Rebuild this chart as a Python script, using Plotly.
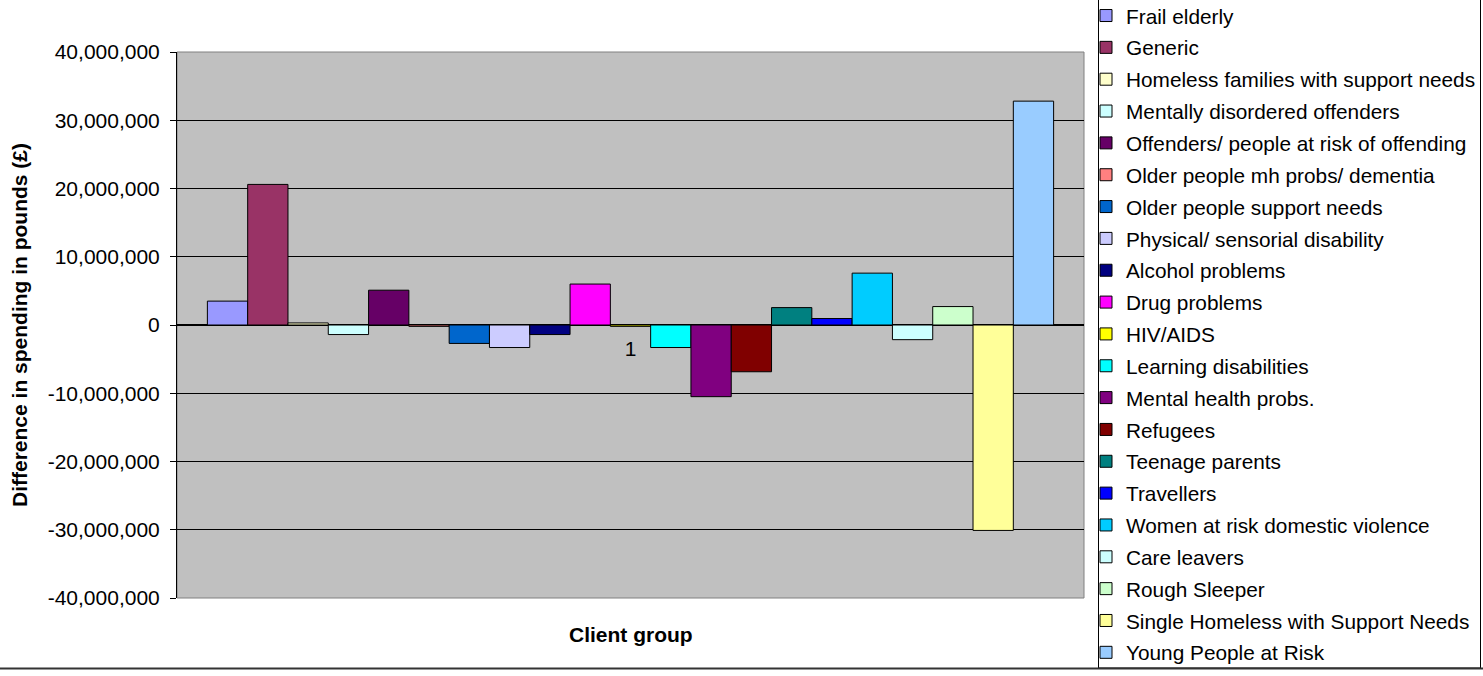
import plotly.graph_objects as go

groups = [
    "Frail elderly", "Generic", "Homeless families with support needs",
    "Mentally disordered offenders", "Offenders/ people at risk of offending",
    "Older people mh probs/ dementia", "Older people support needs",
    "Physical/ sensorial disability", "Alcohol problems", "Drug problems",
    "HIV/AIDS", "Learning disabilities", "Mental health probs.", "Refugees",
    "Teenage parents", "Travellers", "Women at risk domestic violence",
    "Care leavers", "Rough Sleeper", "Single Homeless with Support Needs",
    "Young People at Risk",
]
values = [
    3500000, 20600000, 300000, -1400000, 5100000,
    -200000, -2700000, -3300000, -1400000, 6000000,
    -200000, -3300000, -10500000, -6850000, 2550000,
    950000, 7600000, -2150000, 2700000, -30100000,
    32800000,
]
colors = [
    "#9999FF", "#993366", "#FFFFCC", "#CCFFFF", "#660066",
    "#FF8080", "#0066CC", "#CCCCFF", "#000080", "#FF00FF",
    "#FFFF00", "#00FFFF", "#800080", "#800000", "#008080",
    "#0000FF", "#00CCFF", "#CCFFFF", "#CCFFCC", "#FFFF99",
    "#99CCFF",
]
category = ["1"]
y_ticks = [-40000000, -30000000, -20000000, -10000000, 0,
           10000000, 20000000, 30000000, 40000000]
y_ticklabels = ["-40,000,000", "-30,000,000", "-20,000,000", "-10,000,000", "0",
                "10,000,000", "20,000,000", "30,000,000", "40,000,000"]

FONT = "Liberation Sans, Arial, sans-serif"

fig = go.Figure()
for name, v, c in zip(groups, values, colors):
    fig.add_trace(go.Bar(
        x=category, y=[v], name=name, legendgroup=name,
        marker=dict(color=c, line=dict(color="black", width=1)),
    ))

W, H = 1483, 676
L, R, T, B = 177, 399, 52, 78
pw, ph = W - L - R, H - T - B

def px_x(x):
    return (x - L) / pw

def px_y(y):
    return (H - B - y) / ph

fig.update_layout(
    width=W, height=H,
    margin=dict(l=L, r=R, t=T, b=B, pad=0, autoexpand=False),
    paper_bgcolor="white",
    plot_bgcolor="#C0C0C0",
    barmode="group",
    bargap=0.067,
    bargroupgap=0,
    font=dict(family=FONT, size=21, color="black"),
    showlegend=True,
    legend=dict(
        x=px_x(1086), y=px_y(-4.5), xanchor="left", yanchor="top",
        bgcolor="rgba(0,0,0,0)", borderwidth=0,
        font=dict(family=FONT, size=20.8, color="black"),
        tracegroupgap=1.8,
        maxheight=720,
        itemclick=False,
    ),
    xaxis=dict(
        anchor="free", position=0.5,
        showline=False, ticks="", showgrid=False, zeroline=False,
        tickfont=dict(size=21),
        ticklabelstandoff=9,
        range=[-0.5, 0.5],
    ),
    yaxis=dict(
        range=[-40000000, 40000000],
        tickvals=y_ticks, ticktext=y_ticklabels,
        ticks="outside", ticklen=6, tickcolor="black", tickwidth=1,
        showline=True, linecolor="black", linewidth=1,
        showgrid=True, gridcolor="black", gridwidth=1,
        zeroline=True, zerolinecolor="black", zerolinewidth=1.5,
        tickfont=dict(size=21),
        ticklabelstandoff=6,
        title=dict(text="<b>Difference in spending in pounds (£)</b>",
                   font=dict(size=21), standoff=14),
    ),
    annotations=[
        dict(text="<b>Client group</b>", xref="paper", yref="paper",
             x=0.5, y=px_y(634), xanchor="center", yanchor="middle",
             showarrow=False, font=dict(size=21)),
    ],
    shapes=[
        dict(type="rect", xref="paper", yref="paper", x0=0, x1=1, y0=0, y1=1,
             line=dict(color="#808080", width=1), layer="below"),
        dict(type="rect", xref="paper", yref="paper",
             x0=px_x(1098.5), x1=px_x(1480.5), y0=px_y(668), y1=px_y(-2),
             line=dict(color="black", width=1), fillcolor="rgba(0,0,0,0)", layer="above"),
        dict(type="line", xref="paper", yref="paper",
             x0=px_x(0), x1=px_x(W), y0=px_y(668.5), y1=px_y(668.5),
             line=dict(color="#333333", width=2), layer="above"),
    ],
)

fig.write_html("out.html")
